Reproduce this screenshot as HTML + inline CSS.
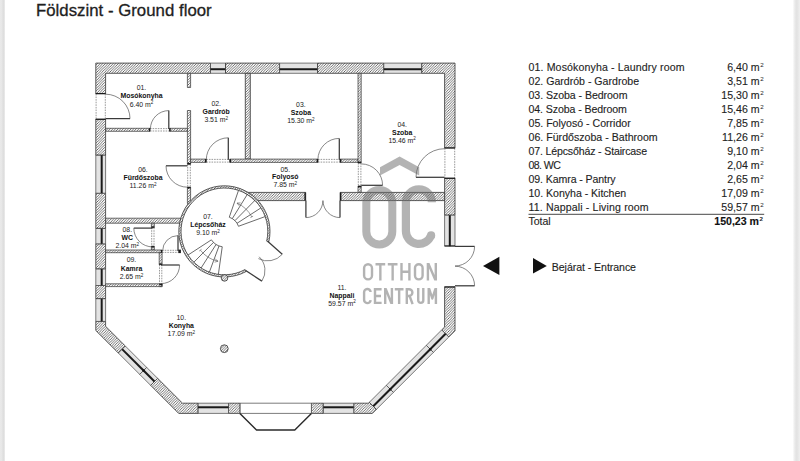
<!DOCTYPE html>
<html><head><meta charset="utf-8"><title>Földszint - Ground floor</title>
<style>
html,body{margin:0;padding:0;background:#fff;}
body{width:800px;height:461px;overflow:hidden;position:relative;font-family:"Liberation Sans",sans-serif;}
.bandL{position:absolute;left:0;top:0;width:5px;height:461px;background:linear-gradient(to right,#e9e9e9 0,#e7e7e7 40%,#dddddd 60%,#e0e0e0 85%,#f6f6f6 100%);}
.bandR{position:absolute;right:0;top:0;width:7px;height:461px;background:linear-gradient(to right,#fbfbfb 0,#e8e8e8 30%,#e2e2e2 55%,#e9e9e9 80%,#efefef 100%);}
svg{position:absolute;left:0;top:0;}
.w{fill:url(#hatch);stroke:#333;stroke-width:0.8;}
.p{fill:url(#hatch);stroke:#333;stroke-width:0.7;}
.win{fill:#e3e3e3;stroke:#444;stroke-width:0.7;}
.wl{stroke:#1a1a1a;stroke-width:2.0;}
.bay{fill:#fff;stroke:#444;stroke-width:0.7;}
.bayl{fill:none;stroke:#2a2a2a;stroke-width:1.4;stroke-linejoin:round;}
.ln{stroke:#333;stroke-width:0.8;}
.leaf{stroke:#3a3a3a;stroke-width:1.25;}
.arc{fill:none;stroke:#555;stroke-width:0.7;}
.th{stroke:#555;stroke-width:0.6;stroke-dasharray:1.6 1.0;}
.st{fill:none;stroke:#3a3a3a;stroke-width:0.75;}
.arw{fill:none;stroke:#555;stroke-width:0.6;}
.col{fill:url(#hatch);stroke:#333;stroke-width:0.8;}
.cap{fill:#1a1a1a;}
.rl{font-family:"Liberation Sans",sans-serif;font-size:6.9px;fill:#222;text-anchor:middle;}
.rb{font-weight:bold;fill:#111;}
.sup{font-size:4.6px;}
.wm path{stroke:#6a6a6a;}
.wm{opacity:0.5;}
.wm text{font-family:"Liberation Sans",sans-serif;fill:#6a6a6a;stroke:#6a6a6a;stroke-width:0.7px;}
.lg{font-family:"Liberation Sans",sans-serif;font-size:10.6px;fill:#1e1e1e;stroke:#1e1e1e;stroke-width:0.12px;}
.lgb{font-weight:bold;fill:#111;}
.lgs{font-family:"Liberation Sans",sans-serif;font-size:6.2px;fill:#1e1e1e;}
.title{font-family:"Liberation Sans",sans-serif;font-size:16.8px;fill:#1e1e1e;stroke:#1e1e1e;stroke-width:0.3px;}
</style></head>
<body>
<div class="bandL"></div><div class="bandR"></div>
<svg width="800" height="461" viewBox="0 0 800 461">
<defs>
<pattern id="hatch" patternUnits="userSpaceOnUse" width="2.6" height="2.6">
<rect width="2.6" height="2.6" fill="#fdfdfd"/>
<path d="M-0.8,0.8 L0.8,-0.8 M0,2.6 L2.6,0 M1.8,3.4 L3.4,1.8" stroke="#5a5a5a" stroke-width="0.85"/>
</pattern>
</defs>
<text class="title" x="35.9" y="16.3" textLength="175.8">Földszint - Ground floor</text>
<path class="w" d="M95.80,93.90 L95.80,63.10 L210.50,63.10 L210.50,73.30 L105.60,73.30 L105.60,93.90 Z"/>
<path class="win" d="M210.50,63.10 L225.50,63.10 L225.50,73.30 L210.50,73.30 Z"/>
<line class="wl" x1="210.50" y1="69.22" x2="225.50" y2="69.22"/>
<path class="w" d="M225.50,63.10 L279.60,63.10 L279.60,73.30 L225.50,73.30 Z"/>
<path class="win" d="M279.60,63.10 L317.60,63.10 L317.60,73.30 L279.60,73.30 Z"/>
<line class="wl" x1="279.60" y1="69.22" x2="317.60" y2="69.22"/>
<path class="w" d="M317.60,63.10 L383.80,63.10 L383.80,73.30 L317.60,73.30 Z"/>
<path class="win" d="M383.80,63.10 L421.80,63.10 L421.80,73.30 L383.80,73.30 Z"/>
<line class="wl" x1="383.80" y1="69.22" x2="421.80" y2="69.22"/>
<path class="w" d="M421.80,63.10 L455.00,63.10 L455.00,148.20 L444.60,148.20 L444.60,73.30 L421.80,73.30 Z"/>
<path class="w" d="M444.60,178.00 L455.00,178.00 L455.00,215.20 L444.60,215.20 Z"/>
<path class="win" d="M455.00,215.20 L444.60,215.20 L444.60,246.20 L455.00,246.20 Z"/>
<line class="wl" x1="449.80" y1="215.20" x2="449.80" y2="246.20"/>
<path class="w" d="M441.70,329.90 L444.60,327.00 L444.60,286.70 L455.00,286.70 L455.00,330.80 L448.80,337.00 Z"/>
<path class="win" d="M441.70,329.90 L448.80,337.00 L433.40,352.40 L426.30,345.30 Z"/>
<line class="wl" x1="445.60" y1="333.81" x2="430.20" y2="349.20"/>
<path class="win" d="M426.30,345.30 L433.40,352.40 L393.40,392.40 L386.30,385.30 Z"/>
<line class="wl" x1="430.20" y1="349.20" x2="390.20" y2="389.20"/>
<path class="win" d="M386.30,385.30 L393.40,392.40 L376.40,409.40 L369.30,402.30 Z"/>
<line class="wl" x1="390.20" y1="389.20" x2="373.20" y2="406.20"/>
<circle cx="430.20" cy="349.20" r="1.2" fill="#111"/>
<circle cx="390.20" cy="389.20" r="1.2" fill="#111"/>
<path class="w" d="M353.70,403.20 L368.40,403.20 L369.30,402.30 L376.40,409.40 L372.40,413.40 L353.70,413.40 Z"/>
<path class="win" d="M323.10,403.20 L353.70,403.20 L353.70,413.40 L323.10,413.40 Z"/>
<line class="wl" x1="323.10" y1="407.28" x2="353.70" y2="407.28"/>
<path class="w" d="M311.40,403.20 L323.10,403.20 L323.10,413.40 L311.40,413.40 Z"/>
<path class="bay" d="M239.90,403.20 L311.40,403.20 L311.40,413.40 L239.90,413.40 Z"/>
<path class="w" d="M228.50,403.20 L239.90,403.20 L239.90,413.40 L228.50,413.40 Z"/>
<path class="win" d="M197.90,403.20 L228.50,403.20 L228.50,413.40 L197.90,413.40 Z"/>
<line class="wl" x1="197.90" y1="407.28" x2="228.50" y2="407.28"/>
<path class="w" d="M157.65,378.35 L182.50,403.20 L197.90,403.20 L197.90,413.40 L178.70,413.40 L150.65,385.35 Z"/>
<path class="win" d="M125.25,345.95 L118.25,352.95 L139.70,374.40 L146.70,367.40 Z"/>
<line class="wl" x1="122.10" y1="349.10" x2="143.55" y2="370.55"/>
<path class="win" d="M146.70,367.40 L139.70,374.40 L150.65,385.35 L157.65,378.35 Z"/>
<line class="wl" x1="143.55" y1="370.55" x2="154.50" y2="381.50"/>
<circle cx="143.55" cy="370.55" r="1.2" fill="#111"/>
<path class="w" d="M95.80,321.40 L105.60,321.40 L105.60,326.30 L125.25,345.95 L118.25,352.95 L95.80,330.50 Z"/>
<path class="win" d="M95.80,298.60 L105.60,298.60 L105.60,321.40 L95.80,321.40 Z"/>
<line class="wl" x1="101.68" y1="298.60" x2="101.68" y2="321.40"/>
<path class="w" d="M95.80,285.50 L105.60,285.50 L105.60,298.60 L95.80,298.60 Z"/>
<path class="win" d="M95.80,268.80 L105.60,268.80 L105.60,285.50 L95.80,285.50 Z"/>
<line class="wl" x1="101.68" y1="268.80" x2="101.68" y2="285.50"/>
<path class="w" d="M95.80,243.80 L105.60,243.80 L105.60,268.80 L95.80,268.80 Z"/>
<path class="win" d="M95.80,228.30 L105.60,228.30 L105.60,243.80 L95.80,243.80 Z"/>
<line class="wl" x1="101.68" y1="228.30" x2="101.68" y2="243.80"/>
<path class="w" d="M95.80,193.20 L105.60,193.20 L105.60,228.30 L95.80,228.30 Z"/>
<path class="win" d="M95.80,155.00 L105.60,155.00 L105.60,193.20 L95.80,193.20 Z"/>
<line class="wl" x1="101.68" y1="155.00" x2="101.68" y2="193.20"/>
<path class="w" d="M95.80,119.00 L105.60,119.00 L105.60,155.00 L95.80,155.00 Z"/>
<path class="p" d="M187.40,73.30 L190.60,73.30 L190.60,87.50 L187.40,87.50 Z"/>
<path class="p" d="M187.40,110.50 L190.60,110.50 L190.60,164.30 L187.40,164.30 Z"/>
<path class="p" d="M187.40,187.10 L190.60,187.10 L190.60,203.50 L187.40,203.50 Z"/>
<path class="p" d="M105.60,128.30 L150.00,128.30 L150.00,131.30 L105.60,131.30 Z"/>
<path class="p" d="M169.50,128.30 L187.40,128.30 L187.40,131.30 L169.50,131.30 Z"/>
<path class="w" d="M245.30,73.30 L250.30,73.30 L250.30,159.10 L245.30,159.10 Z"/>
<path class="p" d="M190.60,159.10 L206.30,159.10 L206.30,162.40 L190.60,162.40 Z"/>
<path class="p" d="M229.70,159.10 L318.00,159.10 L318.00,162.40 L229.70,162.40 Z"/>
<path class="p" d="M340.00,159.10 L358.00,159.10 L358.00,162.40 L340.00,162.40 Z"/>
<path class="p" d="M358.00,73.30 L361.20,73.30 L361.20,163.00 L358.00,163.00 Z"/>
<path class="p" d="M358.00,186.00 L361.20,186.00 L361.20,192.40 L358.00,192.40 Z"/>
<path class="w" d="M246.00,192.40 L305.70,192.40 L305.70,200.60 L246.00,200.60 Z"/>
<path class="w" d="M340.10,192.40 L444.60,192.40 L444.60,200.60 L340.10,200.60 Z"/>
<path class="p" d="M105.60,218.20 L181.00,218.20 L181.00,223.20 L105.60,223.20 Z"/>
<path class="p" d="M151.40,223.20 L154.30,223.20 L154.30,227.60 L151.40,227.60 Z"/>
<path class="p" d="M151.40,246.20 L154.30,246.20 L154.30,250.00 L151.40,250.00 Z"/>
<path class="p" d="M105.60,250.00 L162.10,250.00 L162.10,252.70 L105.60,252.70 Z"/>
<path class="p" d="M159.20,252.70 L162.10,252.70 L162.10,264.70 L159.20,264.70 Z"/>
<path class="p" d="M159.20,284.00 L162.10,284.00 L162.10,286.60 L159.20,286.60 Z"/>
<path class="p" d="M105.60,283.80 L162.10,283.80 L162.10,286.60 L105.60,286.60 Z"/>
<circle cx="224.4" cy="231.4" r="43.1" fill="#fff"/>
<path class="w" d="M246.16,271.47 A45.6,45.6 0 1 1 268.83,241.66 L266.69,241.16 A43.4,43.4 0 1 0 245.11,269.54 Z"/>
<line class="th" x1="96.10" y1="93.90" x2="96.10" y2="119.00"/>
<line class="th" x1="105.30" y1="93.90" x2="105.30" y2="119.00"/>
<line class="leaf" x1="105.60" y1="118.60" x2="130.00" y2="118.60"/>
<path class="arc" d="M130.00,118.60 A24.4,24.4 0 0 0 105.60,94.20"/>
<line class="th" x1="150.00" y1="128.60" x2="169.50" y2="128.60"/>
<line class="th" x1="150.00" y1="131.00" x2="169.50" y2="131.00"/>
<line class="leaf" x1="168.80" y1="129.00" x2="168.80" y2="110.60"/>
<path class="arc" d="M168.80,110.60 A18.4,18.4 0 0 0 150.40,129.00"/>
<line class="th" x1="206.30" y1="159.40" x2="229.70" y2="159.40"/>
<line class="th" x1="206.30" y1="162.10" x2="229.70" y2="162.10"/>
<line class="leaf" x1="228.30" y1="159.80" x2="228.30" y2="137.80"/>
<path class="arc" d="M228.30,137.80 A22.0,22.0 0 0 0 206.30,159.80"/>
<line class="th" x1="318.00" y1="159.40" x2="340.00" y2="159.40"/>
<line class="th" x1="318.00" y1="162.10" x2="340.00" y2="162.10"/>
<line class="leaf" x1="339.30" y1="159.80" x2="339.30" y2="138.40"/>
<path class="arc" d="M339.30,138.40 A21.4,21.4 0 0 0 317.90,159.80"/>
<line class="th" x1="358.30" y1="163.00" x2="358.30" y2="186.00"/>
<line class="th" x1="360.90" y1="163.00" x2="360.90" y2="186.00"/>
<line class="leaf" x1="361.20" y1="185.30" x2="382.60" y2="185.30"/>
<path class="arc" d="M382.60,185.30 A21.4,21.4 0 0 0 361.20,163.90"/>
<line class="th" x1="444.90" y1="148.20" x2="444.90" y2="178.00"/>
<line class="th" x1="454.70" y1="148.20" x2="454.70" y2="178.00"/>
<line class="leaf" x1="444.60" y1="177.30" x2="416.00" y2="177.30"/>
<path class="arc" d="M416.00,177.30 A28.6,28.6 0 0 1 444.60,148.70"/>
<line class="th" x1="187.70" y1="164.30" x2="187.70" y2="187.10"/>
<line class="th" x1="190.30" y1="164.30" x2="190.30" y2="187.10"/>
<line class="leaf" x1="187.40" y1="165.80" x2="166.00" y2="165.80"/>
<path class="arc" d="M166.00,165.80 A21.4,21.4 0 0 0 187.40,187.20"/>
<line class="leaf" x1="305.90" y1="200.60" x2="305.90" y2="217.60"/>
<path class="arc" d="M305.90,217.60 A17.0,17.0 0 0 0 322.90,200.60"/>
<line class="leaf" x1="340.00" y1="200.60" x2="340.00" y2="217.60"/>
<path class="arc" d="M340.00,217.60 A17.0,17.0 0 0 1 323.00,200.60"/>
<line class="th" x1="151.70" y1="227.60" x2="151.70" y2="246.20"/>
<line class="th" x1="154.00" y1="227.60" x2="154.00" y2="246.20"/>
<line class="leaf" x1="152.60" y1="228.10" x2="133.80" y2="228.10"/>
<path class="arc" d="M133.80,228.10 A18.8,18.8 0 0 0 152.60,246.90"/>
<line class="th" x1="159.50" y1="264.70" x2="159.50" y2="284.00"/>
<line class="th" x1="161.80" y1="264.70" x2="161.80" y2="284.00"/>
<line class="leaf" x1="161.00" y1="265.00" x2="179.60" y2="265.00"/>
<path class="arc" d="M179.60,265.00 A18.6,18.6 0 0 1 161.00,283.60"/>
<line class="th" x1="162.10" y1="250.30" x2="178.30" y2="250.30"/>
<line class="th" x1="162.10" y1="252.40" x2="178.30" y2="252.40"/>
<line class="leaf" x1="178.00" y1="251.00" x2="178.00" y2="235.60"/>
<path class="arc" d="M178.00,235.60 A15.4,15.4 0 0 0 162.60,251.00"/>
<line class="leaf" x1="267.60" y1="241.30" x2="282.28" y2="254.29"/>
<path class="arc" d="M282.28,254.29 A19.6,19.6 0 0 1 258.40,258.61"/>
<line class="leaf" x1="245.70" y1="270.60" x2="261.89" y2="281.11"/>
<path class="arc" d="M261.89,281.11 A19.3,19.3 0 0 0 259.18,256.79"/>
<line class="leaf" x1="455.00" y1="246.40" x2="474.60" y2="246.40"/>
<path class="arc" d="M474.60,246.40 A19.6,19.6 0 0 1 455.00,266.00"/>
<line class="leaf" x1="455.00" y1="285.80" x2="474.60" y2="285.80"/>
<path class="arc" d="M474.60,285.80 A19.6,19.6 0 0 0 455.00,266.20"/>
<path class="cap" d="M148.80,128.30 L150.20,128.30 L150.20,131.30 L148.80,131.30 Z"/>
<path class="cap" d="M169.30,128.30 L170.70,128.30 L170.70,131.30 L169.30,131.30 Z"/>
<path class="cap" d="M204.90,159.10 L206.40,159.10 L206.40,162.40 L204.90,162.40 Z"/>
<path class="cap" d="M229.60,159.10 L231.10,159.10 L231.10,162.40 L229.60,162.40 Z"/>
<path class="cap" d="M316.60,159.10 L318.10,159.10 L318.10,162.40 L316.60,162.40 Z"/>
<path class="cap" d="M339.90,159.10 L341.40,159.10 L341.40,162.40 L339.90,162.40 Z"/>
<path class="cap" d="M187.40,162.90 L190.60,162.90 L190.60,164.40 L187.40,164.40 Z"/>
<path class="cap" d="M187.40,187.00 L190.60,187.00 L190.60,188.50 L187.40,188.50 Z"/>
<path class="cap" d="M358.00,161.60 L361.20,161.60 L361.20,163.10 L358.00,163.10 Z"/>
<path class="cap" d="M358.00,185.90 L361.20,185.90 L361.20,187.40 L358.00,187.40 Z"/>
<path class="cap" d="M95.80,93.00 L105.60,93.00 L105.60,94.00 L95.80,94.00 Z"/>
<path class="cap" d="M95.80,118.90 L105.60,118.90 L105.60,119.90 L95.80,119.90 Z"/>
<path class="cap" d="M444.60,147.30 L455.00,147.30 L455.00,148.30 L444.60,148.30 Z"/>
<path class="cap" d="M444.60,177.90 L455.00,177.90 L455.00,178.90 L444.60,178.90 Z"/>
<path class="cap" d="M304.40,192.40 L305.80,192.40 L305.80,200.60 L304.40,200.60 Z"/>
<path class="cap" d="M340.00,192.40 L341.40,192.40 L341.40,200.60 L340.00,200.60 Z"/>
<path class="cap" d="M151.40,226.30 L154.30,226.30 L154.30,227.70 L151.40,227.70 Z"/>
<path class="cap" d="M151.40,246.10 L154.30,246.10 L154.30,247.50 L151.40,247.50 Z"/>
<path class="cap" d="M159.20,263.40 L162.10,263.40 L162.10,264.80 L159.20,264.80 Z"/>
<path class="cap" d="M159.20,283.90 L162.10,283.90 L162.10,285.30 L159.20,285.30 Z"/>
<path class="cap" d="M160.80,250.00 L162.20,250.00 L162.20,252.70 L160.80,252.70 Z"/>
<path class="cap" d="M444.60,245.40 L455.00,245.40 L455.00,246.40 L444.60,246.40 Z"/>
<path class="cap" d="M444.60,286.60 L455.00,286.60 L455.00,287.60 L444.60,287.60 Z"/>
<path class="cap" d="M178.30,249.60 L180.90,249.60 L180.90,253.10 L178.30,253.10 Z"/>
<line class="st" x1="229.28" y1="217.22" x2="238.53" y2="190.36"/>
<line class="st" x1="222.24" y1="246.75" x2="218.36" y2="274.38"/>
<line class="st" x1="232.29" y1="218.64" x2="247.24" y2="194.49"/>
<line class="st" x1="219.04" y1="245.94" x2="209.38" y2="272.12"/>
<line class="st" x1="234.91" y1="220.70" x2="254.82" y2="200.44"/>
<line class="st" x1="216.07" y1="244.47" x2="201.08" y2="268.00"/>
<line class="st" x1="237.02" y1="223.29" x2="260.90" y2="207.92"/>
<line class="st" x1="213.49" y1="242.41" x2="193.85" y2="262.22"/>
<line class="st" x1="238.50" y1="226.27" x2="265.18" y2="216.56"/>
<line class="st" x1="211.40" y1="239.84" x2="188.00" y2="255.04"/>
<path class="st" d="M229.28,217.22 A15.0,15.0 0 0 1 238.50,226.27"/>
<path class="st" d="M222.24,246.75 A15.5,15.5 0 0 1 211.40,239.84"/>
<path class="arw" d="M251.77,216.85 A31.0,31.0 0 0 0 237.01,203.08"/>
<path class="arw" d="M240.58,202.92 L237.01,203.08 L239.28,205.84"/>
<line class="arw" x1="250.45" y1="217.55" x2="253.10" y2="216.14"/>
<path class="arw" d="M200.37,250.18 A30.5,30.5 0 0 0 218.06,261.23"/>
<path class="arw" d="M214.60,262.13 L218.06,261.23 L215.26,259.00"/>
<line class="arw" x1="201.55" y1="249.25" x2="199.18" y2="251.10"/>
<circle class="col" cx="224.5" cy="277.9" r="3.3"/>
<circle class="col" cx="224.3" cy="348.7" r="3.9"/>
<path class="bayl" d="M239.9,413.4 L256.5,430.0 L294.8,430.0 L311.4,413.4"/>
<g class="wm">
<path d="M380,167.2 L399.6,156.6 L419.2,167.2 L419.2,175.5 L399.6,165 L380,175.5 Z" style="fill:#6a6a6a;stroke:none"/>
<path d="M366.3,203 A13,13 0 0 1 392.3,203 L392.3,231.4 A13,13 0 0 1 366.3,231.4 Z" fill="none" stroke-width="8"/>
<path d="M431.9,202.3 A13,13 0 0 0 405.9,202.3 L405.9,231 A13,13 0 0 0 431.1,235.4" fill="none" stroke-width="8.2" stroke-linecap="butt"/><circle cx="431.1" cy="235.4" r="4.1" stroke="none" fill="#6a6a6a"/>
<g fill="none" stroke-width="2.4" stroke-linejoin="miter" stroke-miterlimit="10">
<path d="M364.1,268.15 A3.95,3.95 0 0 1 372.0,268.15 L372.0,275.45 A3.95,3.95 0 0 1 364.1,275.45 Z"/>
<path d="M375.5,264.2 L385.2,264.2 M380.35,264.2 L380.35,280.6"/>
<path d="M387.8,264.2 L397.5,264.2 M392.65,264.2 L392.65,280.6"/>
<path d="M401.5,263 L401.5,280.6 M409.4,263 L409.4,280.6 M401.5,271.8 L409.4,271.8"/>
<path d="M415.0,268.0 A3.8,3.8 0 0 1 422.6,268.0 L422.6,275.6 A3.8,3.8 0 0 1 415.0,275.6 Z"/>
<path d="M427.9,280.6 L427.9,263 M435.8,263 L435.8,280.6 M428.3,263.6 L435.4,280.0"/>
<path d="M370.6,292.0 A3.25,3.25 0 0 0 364.1,292.4 L364.1,299.7 A3.25,3.25 0 0 0 370.6,300.1"/>
<path d="M381.6,289.2 L375,289.2 L375,302.9 L381.6,302.9 M375,296 L381,296"/>
<path d="M385.2,304.1 L385.2,288 M391.9,288 L391.9,304.1 M385.6,288.6 L391.5,303.5"/>
<path d="M394.8,289.2 L403.5,289.2 M399.15,289.2 L399.15,304.1"/>
<path d="M406.8,304.1 L406.8,289.2 L409,289.2 A3.4,3.4 0 0 1 409,296 L406.8,296 M409.6,296 L412.6,304.1"/>
<path d="M418.2,288 L418.2,300.35 A2.55,2.55 0 0 0 423.3,300.35 L423.3,288"/>
<path d="M428.7,304.1 L428.7,288 M435.9,288 L435.9,304.1 M429.1,288.6 L432.3,298.5 L435.5,288.6" stroke-linejoin="round"/>
</g>
</g>
<text class="rl" x="141.5" y="90.2">01.</text>
<text class="rl rb" x="141.5" y="98.2">Mosókonyha</text>
<text class="rl" x="141.5" y="106.5">6.40 m<tspan class="sup" dy="-2.1">2</tspan></text>
<text class="rl" x="216.2" y="106.1">02.</text>
<text class="rl rb" x="216.2" y="114.4">Gardrób</text>
<text class="rl" x="216.2" y="122.3">3.51 m<tspan class="sup" dy="-2.1">2</tspan></text>
<text class="rl" x="300.9" y="106.5">03.</text>
<text class="rl rb" x="300.9" y="114.8">Szoba</text>
<text class="rl" x="300.9" y="122.7">15.30 m<tspan class="sup" dy="-2.1">2</tspan></text>
<text class="rl" x="402.2" y="127.0">04.</text>
<text class="rl rb" x="402.2" y="134.9">Szoba</text>
<text class="rl" x="402.2" y="142.5">15.46 m<tspan class="sup" dy="-2.1">2</tspan></text>
<text class="rl" x="285.3" y="171.5">05.</text>
<text class="rl rb" x="285.3" y="179.4">Folyosó</text>
<text class="rl" x="285.3" y="187.3">7.85 m<tspan class="sup" dy="-2.1">2</tspan></text>
<text class="rl" x="143.0" y="172.0">06.</text>
<text class="rl rb" x="143.0" y="180.2">Fürdőszoba</text>
<text class="rl" x="143.0" y="187.8">11.26 m<tspan class="sup" dy="-2.1">2</tspan></text>
<text class="rl" x="208.0" y="218.7">07.</text>
<text class="rl rb" x="208.0" y="226.9">Lépcsőház</text>
<text class="rl" x="208.0" y="234.6">9.10 m<tspan class="sup" dy="-2.1">2</tspan></text>
<text class="rl" x="127.3" y="231.5">08.</text>
<text class="rl rb" x="127.3" y="239.6">WC</text>
<text class="rl" x="127.3" y="248.2">2.04 m<tspan class="sup" dy="-2.1">2</tspan></text>
<text class="rl" x="131.5" y="262.2">09.</text>
<text class="rl rb" x="131.5" y="270.9">Kamra</text>
<text class="rl" x="131.5" y="278.9">2.65 m<tspan class="sup" dy="-2.1">2</tspan></text>
<text class="rl" x="181.3" y="320.4">10.</text>
<text class="rl rb" x="181.3" y="328.4">Konyha</text>
<text class="rl" x="181.3" y="336.4">17.09 m<tspan class="sup" dy="-2.1">2</tspan></text>
<text class="rl" x="342.0" y="289.7">11.</text>
<text class="rl rb" x="342.0" y="297.7">Nappali</text>
<text class="rl" x="342.0" y="305.5">59.57 m<tspan class="sup" dy="-2.1">2</tspan></text>
<text class="lg" x="528.5" y="70.9" textLength="156.0">01. Mosókonyha - Laundry room</text>
<text class="lg" x="759.6" y="70.9" text-anchor="end">6,40 m</text><text class="lgs" x="760.2" y="66.6">2</text>
<text class="lg" x="528.5" y="84.9" textLength="110.6">02. Gardrób - Gardrobe</text>
<text class="lg" x="759.6" y="84.9" text-anchor="end">3,51 m</text><text class="lgs" x="760.2" y="80.6">2</text>
<text class="lg" x="528.5" y="98.9" textLength="99.0">03. Szoba - Bedroom</text>
<text class="lg" x="759.6" y="98.9" text-anchor="end">15,30 m</text><text class="lgs" x="760.2" y="94.6">2</text>
<text class="lg" x="528.5" y="112.9" textLength="98.4">04. Szoba - Bedroom</text>
<text class="lg" x="759.6" y="112.9" text-anchor="end">15,46 m</text><text class="lgs" x="760.2" y="108.6">2</text>
<text class="lg" x="528.5" y="126.9" textLength="102.2">05. Folyosó - Corridor</text>
<text class="lg" x="759.6" y="126.9" text-anchor="end">7,85 m</text><text class="lgs" x="760.2" y="122.6">2</text>
<text class="lg" x="528.5" y="140.9" textLength="129.2">06. Fürdőszoba - Bathroom</text>
<text class="lg" x="759.6" y="140.9" text-anchor="end">11,26 m</text><text class="lgs" x="760.2" y="136.6">2</text>
<text class="lg" x="528.5" y="154.9" textLength="118.6">07. Lépcsőház - Staircase</text>
<text class="lg" x="759.6" y="154.9" text-anchor="end">9,10 m</text><text class="lgs" x="760.2" y="150.6">2</text>
<text class="lg" x="528.5" y="168.9" textLength="32.4">08. WC</text>
<text class="lg" x="759.6" y="168.9" text-anchor="end">2,04 m</text><text class="lgs" x="760.2" y="164.6">2</text>
<text class="lg" x="528.5" y="182.9" textLength="87.1">09. Kamra - Pantry</text>
<text class="lg" x="759.6" y="182.9" text-anchor="end">2,65 m</text><text class="lgs" x="760.2" y="178.6">2</text>
<text class="lg" x="528.5" y="196.9" textLength="97.7">10. Konyha - Kitchen</text>
<text class="lg" x="759.6" y="196.9" text-anchor="end">17,09 m</text><text class="lgs" x="760.2" y="192.6">2</text>
<text class="lg" x="528.5" y="210.9" textLength="120.2">11. Nappali - Living room</text>
<text class="lg" x="759.6" y="210.9" text-anchor="end">59,57 m</text><text class="lgs" x="760.2" y="206.6">2</text>
<line x1="528.5" y1="214.3" x2="764.2" y2="214.3" stroke="#333" stroke-width="0.9"/>
<text class="lg" x="528.5" y="224.9" textLength="22.2">Total</text>
<text class="lg lgb" x="759.0" y="224.9" text-anchor="end">150,23 m</text><text class="lgs lgb" x="759.6" y="220.6">2</text>
<path d="M533,258.1 L546.8,265.9 L533,273.6 Z" fill="#111"/>
<text class="lg" x="551.8" y="270.8" textLength="84.2">Bejárat - Entrance</text>
<path d="M483,266 L499.4,256.8 L499.4,275 Z" fill="#111"/>
</svg>
</body></html>
